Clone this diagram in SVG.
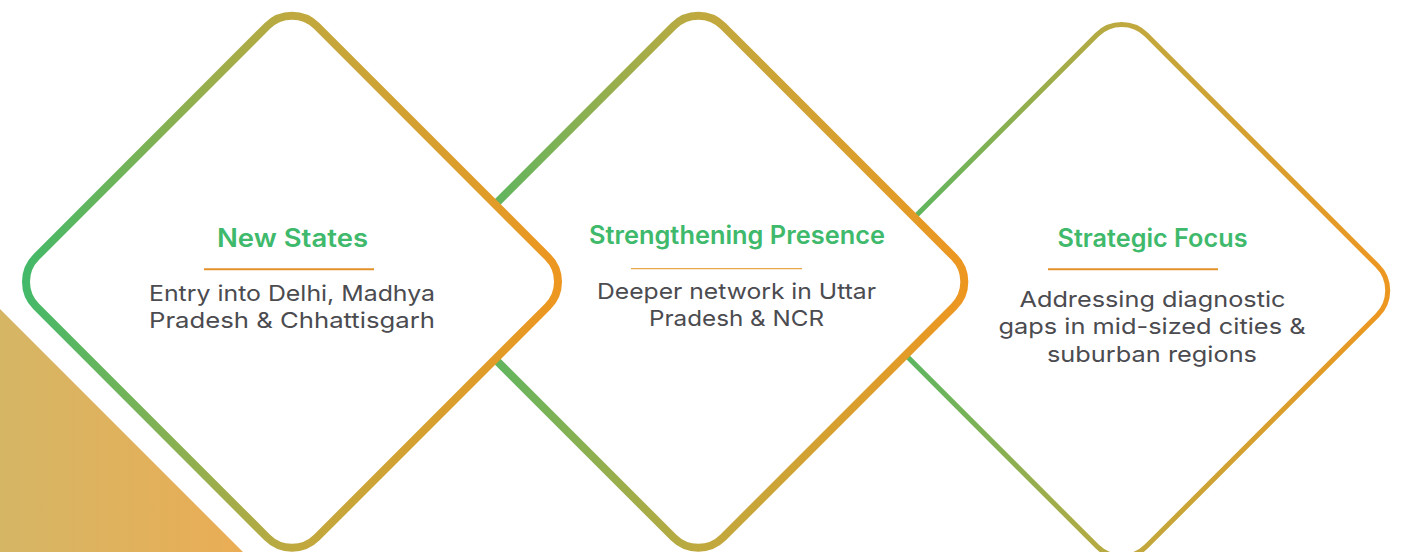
<svg xmlns="http://www.w3.org/2000/svg" width="1404" height="552" viewBox="0 0 1404 552">
  <defs>
    <linearGradient id="ring" x1="0" y1="1" x2="1" y2="0">
      <stop offset="0" stop-color="#3dba6b"/>
      <stop offset="0.5" stop-color="#bfa93f"/>
      <stop offset="1" stop-color="#ef961f"/>
    </linearGradient>
    <linearGradient id="tri" x1="0" y1="0" x2="1" y2="0">
      <stop offset="0" stop-color="#d5b665"/>
      <stop offset="1" stop-color="#eaad55"/>
    </linearGradient>
  </defs>
  <style>
    .ring{fill:#ffffff;stroke:url(#ring);stroke-width:8}
    .ring.thin{stroke-width:5}
    .title{font-family:Inter,"Open Sans","Liberation Sans",sans-serif;font-weight:600;font-size:25px;fill:#3fb96b;text-anchor:middle}
    .body{font-family:Inter,"Open Sans","Liberation Sans",sans-serif;font-weight:400;font-size:22px;fill:#4b4b50;text-anchor:middle}
    .rule{stroke:#e3922a;stroke-width:2}
    .rule.fine{stroke:#e9a84a;stroke-width:1.2}
  </style>
  <rect width="1404" height="552" fill="#ffffff"/>
  <polygon id="corner-triangle" points="0,309 243,552 0,552" fill="url(#tri)"/>

  <g id="node-strategic-focus">
    <rect class="ring thin" x="923.4" y="92.2" width="396.7" height="396.7" rx="35" transform="rotate(45 1121.7 290.5)"/>
    <text class="title" x="1152.5" y="246.7" textLength="190" lengthAdjust="spacingAndGlyphs">Strategic Focus</text>
    <line class="rule" x1="1048" y1="269.3" x2="1218" y2="269.3"/>
    <text class="body" x="1152.5" y="307.3" textLength="266" lengthAdjust="spacingAndGlyphs">Addressing diagnostic</text>
    <text class="body" x="1152" y="334.3" textLength="307" lengthAdjust="spacingAndGlyphs">gaps in mid-sized cities &amp;</text>
    <text class="body" x="1152" y="361.7" textLength="210" lengthAdjust="spacingAndGlyphs">suburban regions</text>
  </g>

  <g id="node-strengthening-presence">
    <rect class="ring" x="500" y="83.4" width="396.7" height="396.7" rx="35" transform="rotate(45 698.3 281.7)"/>
    <text class="title" x="737" y="244" textLength="296" lengthAdjust="spacingAndGlyphs">Strengthening Presence</text>
    <line class="rule fine" x1="631" y1="268.7" x2="802" y2="268.7"/>
    <text class="body" x="736.5" y="298.5" textLength="279" lengthAdjust="spacingAndGlyphs">Deeper network in Uttar</text>
    <text class="body" x="736.5" y="326" textLength="175" lengthAdjust="spacingAndGlyphs">Pradesh &amp; NCR</text>
  </g>

  <g id="node-new-states">
    <rect class="ring" x="93.7" y="83.4" width="396.7" height="396.7" rx="35" transform="rotate(45 292 281.7)"/>
    <text class="title" x="292.5" y="247.3" textLength="151" lengthAdjust="spacingAndGlyphs">New States</text>
    <line class="rule" x1="204" y1="269.3" x2="374" y2="269.3"/>
    <text class="body" x="292" y="301" textLength="286" lengthAdjust="spacingAndGlyphs">Entry into Delhi, Madhya</text>
    <text class="body" x="292" y="328" textLength="286" lengthAdjust="spacingAndGlyphs">Pradesh &amp; Chhattisgarh</text>
  </g>
</svg>
